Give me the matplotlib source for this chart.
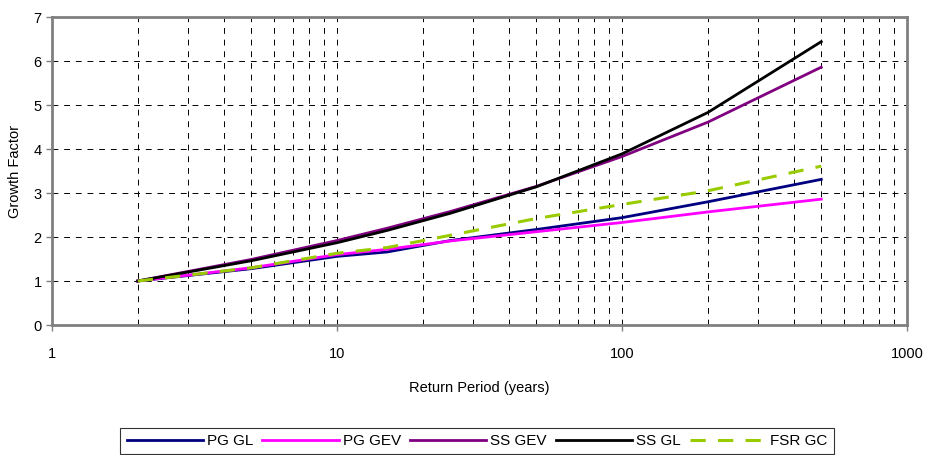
import numpy as np
import matplotlib
matplotlib.use("Agg")
import matplotlib.pyplot as plt
from matplotlib.ticker import LogLocator, FixedLocator, NullFormatter

plt.rcParams['font.family'] = ['Liberation Sans', 'DejaVu Sans']

# Wiederkehrperioden (Jahre)
period = np.array([2, 5, 10, 15, 25, 50, 100, 200, 500])

# Wachstumsfaktoren je Verfahren
pg_gl  = np.array([1.0, 1.28, 1.56, 1.66, 1.92, 2.17, 2.44, 2.80, 3.31])
pg_gev = np.array([1.0, 1.30, 1.60, 1.72, 1.91, 2.12, 2.33, 2.57, 2.86])
ss_gev = np.array([1.0, 1.49, 1.92, 2.20, 2.58, 3.15, 3.83, 4.61, 5.86])
ss_gl  = np.array([1.0, 1.46, 1.87, 2.15, 2.54, 3.14, 3.89, 4.83, 6.44])
fsr_gc = np.array([1.0, 1.30, 1.63, 1.76, 2.04, 2.42, 2.74, 3.05, 3.61])

fig = plt.figure(figsize=(9.25, 4.55), dpi=100)
ax = fig.add_axes([0.0562, 0.2857, 0.9244, 0.6769])

ax.plot(period, pg_gl, color='#000080', lw=2, label='PG GL')
ax.plot(period, pg_gev, color='#FF00FF', lw=2, label='PG GEV')
ax.plot(period, ss_gev, color='#800080', lw=2, label='SS GEV')
ax.plot(period, ss_gl, color='black', lw=2, label='SS GL')
ax.plot(period, fsr_gc, color='#99CC00', lw=2.2, ls=(0, (5, 4)), label='FSR GC')

ax.set_xscale('log')
ax.set_xlim(1, 1000)
ax.set_ylim(0, 7)
ax.set_yticks(range(0, 8))
ax.xaxis.set_major_locator(FixedLocator([1, 10, 100, 1000]))
ax.set_xticklabels(['1', '10', '100', '1000'])
ax.xaxis.set_minor_locator(LogLocator(base=10, subs=np.arange(2, 10)))
ax.xaxis.set_minor_formatter(NullFormatter())

# Gitter gestrichelt
ax.grid(True, which='both', axis='x', color='black', lw=0.7, ls=(0, (6, 6)))
ax.grid(True, which='major', axis='y', color='black', lw=0.7, ls=(0, (6, 6)))
ax.set_axisbelow(True)

for s in ax.spines.values():
    s.set_color('#808080')
    s.set_linewidth(2)

ax.tick_params(axis='both', which='major', labelsize=10.5, length=4, width=1, color='#808080')
ax.tick_params(axis='x', which='minor', length=0)
ax.tick_params(axis='x', pad=12)

ax.set_xlabel('Return Period (years)', fontsize=10.5, labelpad=14)
ax.set_ylabel('Growth Factor', fontsize=10.5, labelpad=8)

leg = fig.legend(loc='center', bbox_to_anchor=(477 / 925, 1 - 441 / 455), ncol=5,
                 fontsize=11, handlelength=5, columnspacing=0.6, handletextpad=0.25,
                 frameon=True, fancybox=False, borderpad=0.4, borderaxespad=0)
leg.get_frame().set_edgecolor('black')
leg.get_frame().set_linewidth(0.8)

fig.savefig('out.png', dpi=100)
